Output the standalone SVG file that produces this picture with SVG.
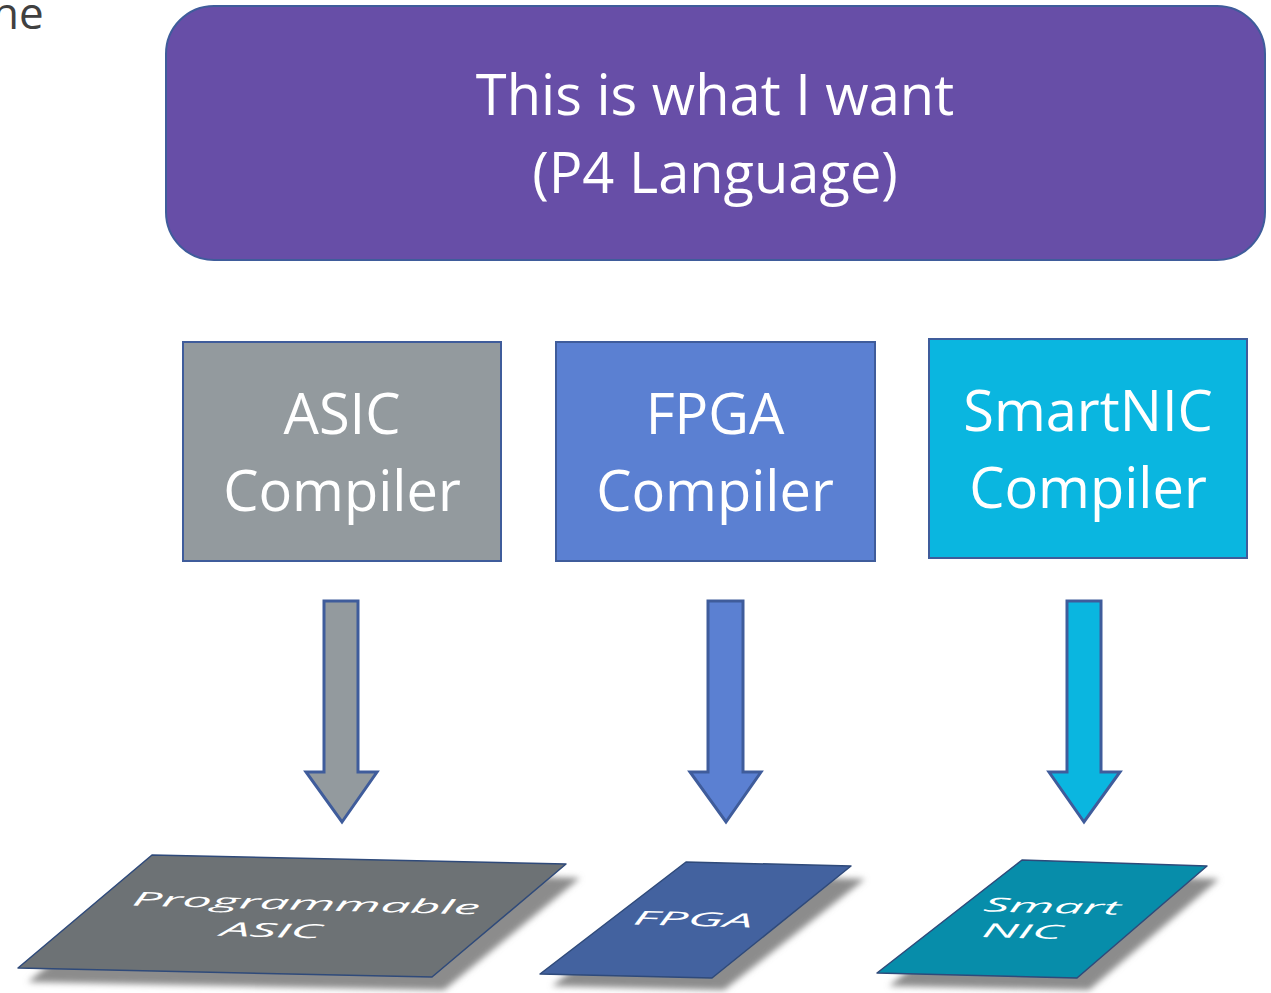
<svg xmlns="http://www.w3.org/2000/svg" width="1271" height="993" viewBox="0 0 1271 993">
<defs>
<style>
.t{font-family:"Open Sans","Noto Sans",sans-serif;fill:#fff;text-anchor:middle}
.big{font-size:56px}
.box{stroke:#3f5c9b;stroke-width:2}
.arr{stroke:#3f5c9b;stroke-width:3;stroke-linejoin:miter}
.chip{stroke:#2f4a7a;stroke-width:1.5;stroke-linejoin:round}
.ct{font-family:"Open Sans","Noto Sans",sans-serif;font-style:italic;fill:#fff;text-anchor:middle;font-size:27px}
.sh{fill:#8c8c8c;filter:url(#blur)}
</style>
<filter id="blur" x="-10%" y="-30%" width="120%" height="160%"><feGaussianBlur stdDeviation="3"/></filter>
</defs>
<rect width="1271" height="993" fill="#fff"/>
<text x="-8" y="29" font-family="Open Sans, Noto Sans, sans-serif" font-size="44" fill="#404040">he</text>

<g id="top">
<rect x="166" y="6" width="1099" height="254" rx="48" fill="#674ea7" stroke="#3f5c9b" stroke-width="2"/>
<text class="t" x="715" y="115" font-size="56">This is what I want</text>
<text class="t" x="715" y="193" font-size="56">(P4 Language)</text>
</g>

<g id="asic-compiler">
<rect class="box" x="183" y="342" width="318" height="219" fill="#939a9e"/>
<text class="t big" x="342" y="434">ASIC</text>
<text class="t big" x="342" y="511">Compiler</text>
</g>
<g id="fpga-compiler">
<rect class="box" x="556" y="342" width="319" height="219" fill="#5b80d2"/>
<text class="t big" x="715" y="434">FPGA</text>
<text class="t big" x="715" y="511">Compiler</text>
</g>
<g id="smartnic-compiler">
<rect class="box" x="929" y="339" width="318" height="219" fill="#0ab6e0"/>
<text class="t big" x="1088" y="431">SmartNIC</text>
<text class="t big" x="1088" y="508">Compiler</text>
</g>

<g id="connectors">
<path class="arr" fill="#939a9e" d="M324,601 H358 V772 H377 L342,822 L306,772 H324 Z"/>
<path class="arr" fill="#5b80d2" d="M708,601 H743 V772 H761 L726,822 L690,772 H708 Z"/>
<path class="arr" fill="#0ab6e0" d="M1067,601 H1101 V772 H1120 L1084,822 L1049,772 H1067 Z"/>
</g>

<g id="asic-chip">
<polygon class="sh" points="168,868 580,878 444,990 28,982"/>
<polygon class="chip" fill="#6d7275" points="152,855 566,864 432,977 18,968"/>
<text class="ct" transform="translate(305,910) rotate(1.5) skewX(-8) scale(1.94,0.72)">Programmable</text>
<text class="ct" transform="translate(270,937) rotate(1.5) skewX(-8) scale(1.94,0.72)">ASIC</text>
</g>
<g id="fpga-chip">
<polygon class="sh" points="698,875 865,879 724,990 552,986"/>
<polygon class="chip" fill="#43629f" points="686,862 851,866 712,978 540,974"/>
<text class="ct" transform="translate(692,926) rotate(1.5) skewX(-8) scale(1.94,0.72)">FPGA</text>
</g>
<g id="smartnic-chip">
<polygon class="sh" points="1034,873 1219,879 1089,990 889,986"/>
<polygon class="chip" fill="#078daa" points="1022,860 1207,866 1077,978 877,973"/>
<text class="ct" transform="translate(1051,913) rotate(1.5) skewX(-8) scale(1.9,0.72)">Smart</text>
<text class="ct" transform="translate(1021,938) rotate(1.5) skewX(-8) scale(1.9,0.72)">NIC</text>
</g>
</svg>
